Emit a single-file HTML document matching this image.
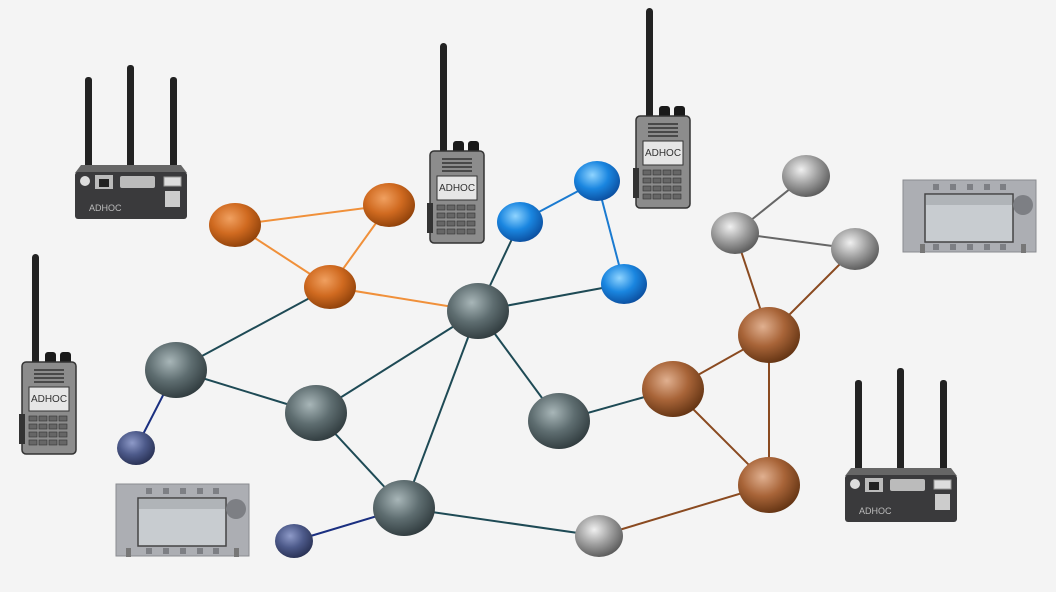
<!DOCTYPE html>
<html><head><style>
html,body{margin:0;padding:0;background:#f4f4f4;}
svg{display:block;font-family:"Liberation Sans",sans-serif;}
</style></head><body>
<svg width="1056" height="592" viewBox="0 0 1056 592" xmlns="http://www.w3.org/2000/svg">
<defs>
<radialGradient id="gT" cx="0.4" cy="0.35" r="0.7"><stop offset="0" stop-color="#a8b6b8"/><stop offset="0.5" stop-color="#5e6d70"/><stop offset="1" stop-color="#2d383b"/></radialGradient>
<radialGradient id="gO" cx="0.4" cy="0.35" r="0.7"><stop offset="0" stop-color="#f0a060"/><stop offset="0.5" stop-color="#d06a20"/><stop offset="1" stop-color="#8a3e08"/></radialGradient>
<radialGradient id="gB" cx="0.4" cy="0.35" r="0.7"><stop offset="0" stop-color="#8fd4ff"/><stop offset="0.5" stop-color="#1a86e0"/><stop offset="1" stop-color="#0a4a9a"/></radialGradient>
<radialGradient id="gN" cx="0.4" cy="0.35" r="0.7"><stop offset="0" stop-color="#8e9ac8"/><stop offset="0.5" stop-color="#4d5a8a"/><stop offset="1" stop-color="#262e50"/></radialGradient>
<radialGradient id="gG" cx="0.4" cy="0.35" r="0.7"><stop offset="0" stop-color="#f0f0f0"/><stop offset="0.5" stop-color="#a0a0a0"/><stop offset="1" stop-color="#555"/></radialGradient>
<radialGradient id="gC" cx="0.4" cy="0.35" r="0.7"><stop offset="0" stop-color="#e0b090"/><stop offset="0.5" stop-color="#a86438"/><stop offset="1" stop-color="#5e3010"/></radialGradient>
</defs>

<g stroke-width="2" fill="none">
<g stroke="#f0903a">
<line x1="235" y1="225" x2="389" y2="205"/><line x1="389" y1="205" x2="330" y2="287"/><line x1="330" y1="287" x2="235" y2="225"/><line x1="330" y1="287" x2="478" y2="311"/>
</g>
<g stroke="#1e4a55">
<line x1="176" y1="370" x2="330" y2="287"/><line x1="176" y1="370" x2="316" y2="413"/><line x1="316" y1="413" x2="478" y2="311"/><line x1="316" y1="413" x2="404" y2="508"/><line x1="478" y1="311" x2="404" y2="508"/><line x1="478" y1="311" x2="559" y2="421"/><line x1="478" y1="311" x2="520" y2="222"/><line x1="478" y1="311" x2="624" y2="284"/><line x1="404" y1="508" x2="599" y2="536"/><line x1="559" y1="421" x2="673" y2="389"/>
</g>
<g stroke="#1a2f80"><line x1="136" y1="448" x2="176" y2="370"/><line x1="294" y1="541" x2="404" y2="508"/></g>
<g stroke="#1a7ad0"><line x1="520" y1="222" x2="597" y2="181"/><line x1="597" y1="181" x2="624" y2="284"/></g>
<g stroke="#8a4a20"><line x1="599" y1="536" x2="769" y2="485"/><line x1="673" y1="389" x2="769" y2="335"/><line x1="673" y1="389" x2="769" y2="485"/><line x1="769" y1="335" x2="769" y2="485"/><line x1="769" y1="335" x2="735" y2="233"/><line x1="769" y1="335" x2="855" y2="249"/></g>
<g stroke="#666"><line x1="735" y1="233" x2="806" y2="176"/><line x1="735" y1="233" x2="855" y2="249"/></g>
</g>

<ellipse cx="235" cy="225" rx="26" ry="22" fill="url(#gO)"/>
<ellipse cx="389" cy="205" rx="26" ry="22" fill="url(#gO)"/>
<ellipse cx="330" cy="287" rx="26" ry="22" fill="url(#gO)"/>
<ellipse cx="520" cy="222" rx="23" ry="20" fill="url(#gB)"/>
<ellipse cx="597" cy="181" rx="23" ry="20" fill="url(#gB)"/>
<ellipse cx="624" cy="284" rx="23" ry="20" fill="url(#gB)"/>
<ellipse cx="176" cy="370" rx="31" ry="28" fill="url(#gT)"/>
<ellipse cx="316" cy="413" rx="31" ry="28" fill="url(#gT)"/>
<ellipse cx="478" cy="311" rx="31" ry="28" fill="url(#gT)"/>
<ellipse cx="404" cy="508" rx="31" ry="28" fill="url(#gT)"/>
<ellipse cx="559" cy="421" rx="31" ry="28" fill="url(#gT)"/>
<ellipse cx="136" cy="448" rx="19" ry="17" fill="url(#gN)"/>
<ellipse cx="294" cy="541" rx="19" ry="17" fill="url(#gN)"/>
<ellipse cx="599" cy="536" rx="24" ry="21" fill="url(#gG)"/>
<ellipse cx="735" cy="233" rx="24" ry="21" fill="url(#gG)"/>
<ellipse cx="806" cy="176" rx="24" ry="21" fill="url(#gG)"/>
<ellipse cx="855" cy="249" rx="24" ry="21" fill="url(#gG)"/>
<ellipse cx="673" cy="389" rx="31" ry="28" fill="url(#gC)"/>
<ellipse cx="769" cy="335" rx="31" ry="28" fill="url(#gC)"/>
<ellipse cx="769" cy="485" rx="31" ry="28" fill="url(#gC)"/>

<g transform="translate(428,43)">
<rect x="12" y="0" width="7" height="112" rx="3.5" fill="#222"/>
<rect x="25" y="98" width="11" height="16" rx="3" fill="#1a1a1a"/><rect x="40" y="98" width="11" height="16" rx="3" fill="#1a1a1a"/>
<rect x="2" y="108" width="54" height="92" rx="4" fill="#8c8c8c" stroke="#333" stroke-width="1.5"/>
<rect x="-1" y="160" width="6" height="30" fill="#333"/>
<g stroke="#333" stroke-width="1.5"><line x1="14" y1="116" x2="44" y2="116"/><line x1="14" y1="120" x2="44" y2="120"/><line x1="14" y1="124" x2="44" y2="124"/><line x1="14" y1="128" x2="44" y2="128"/></g>
<rect x="9" y="133" width="40" height="24" fill="#e6e6e6" stroke="#333"/>
<text x="29" y="148" font-size="10" text-anchor="middle" fill="#333">ADHOC</text>
<g fill="#666" stroke="#333" stroke-width="0.6">
<rect x="9" y="162" width="8" height="5"/><rect x="19" y="162" width="8" height="5"/><rect x="29" y="162" width="8" height="5"/><rect x="39" y="162" width="8" height="5"/>
<rect x="9" y="170" width="8" height="5"/><rect x="19" y="170" width="8" height="5"/><rect x="29" y="170" width="8" height="5"/><rect x="39" y="170" width="8" height="5"/>
<rect x="9" y="178" width="8" height="5"/><rect x="19" y="178" width="8" height="5"/><rect x="29" y="178" width="8" height="5"/><rect x="39" y="178" width="8" height="5"/>
<rect x="9" y="186" width="8" height="5"/><rect x="19" y="186" width="8" height="5"/><rect x="29" y="186" width="8" height="5"/><rect x="39" y="186" width="8" height="5"/>
</g></g>
<g transform="translate(634,8)">
<rect x="12" y="0" width="7" height="112" rx="3.5" fill="#222"/>
<rect x="25" y="98" width="11" height="16" rx="3" fill="#1a1a1a"/><rect x="40" y="98" width="11" height="16" rx="3" fill="#1a1a1a"/>
<rect x="2" y="108" width="54" height="92" rx="4" fill="#8c8c8c" stroke="#333" stroke-width="1.5"/>
<rect x="-1" y="160" width="6" height="30" fill="#333"/>
<g stroke="#333" stroke-width="1.5"><line x1="14" y1="116" x2="44" y2="116"/><line x1="14" y1="120" x2="44" y2="120"/><line x1="14" y1="124" x2="44" y2="124"/><line x1="14" y1="128" x2="44" y2="128"/></g>
<rect x="9" y="133" width="40" height="24" fill="#e6e6e6" stroke="#333"/>
<text x="29" y="148" font-size="10" text-anchor="middle" fill="#333">ADHOC</text>
<g fill="#666" stroke="#333" stroke-width="0.6">
<rect x="9" y="162" width="8" height="5"/><rect x="19" y="162" width="8" height="5"/><rect x="29" y="162" width="8" height="5"/><rect x="39" y="162" width="8" height="5"/>
<rect x="9" y="170" width="8" height="5"/><rect x="19" y="170" width="8" height="5"/><rect x="29" y="170" width="8" height="5"/><rect x="39" y="170" width="8" height="5"/>
<rect x="9" y="178" width="8" height="5"/><rect x="19" y="178" width="8" height="5"/><rect x="29" y="178" width="8" height="5"/><rect x="39" y="178" width="8" height="5"/>
<rect x="9" y="186" width="8" height="5"/><rect x="19" y="186" width="8" height="5"/><rect x="29" y="186" width="8" height="5"/><rect x="39" y="186" width="8" height="5"/>
</g></g>
<g transform="translate(20,254)">
<rect x="12" y="0" width="7" height="112" rx="3.5" fill="#222"/>
<rect x="25" y="98" width="11" height="16" rx="3" fill="#1a1a1a"/><rect x="40" y="98" width="11" height="16" rx="3" fill="#1a1a1a"/>
<rect x="2" y="108" width="54" height="92" rx="4" fill="#8c8c8c" stroke="#333" stroke-width="1.5"/>
<rect x="-1" y="160" width="6" height="30" fill="#333"/>
<g stroke="#333" stroke-width="1.5"><line x1="14" y1="116" x2="44" y2="116"/><line x1="14" y1="120" x2="44" y2="120"/><line x1="14" y1="124" x2="44" y2="124"/><line x1="14" y1="128" x2="44" y2="128"/></g>
<rect x="9" y="133" width="40" height="24" fill="#e6e6e6" stroke="#333"/>
<text x="29" y="148" font-size="10" text-anchor="middle" fill="#333">ADHOC</text>
<g fill="#666" stroke="#333" stroke-width="0.6">
<rect x="9" y="162" width="8" height="5"/><rect x="19" y="162" width="8" height="5"/><rect x="29" y="162" width="8" height="5"/><rect x="39" y="162" width="8" height="5"/>
<rect x="9" y="170" width="8" height="5"/><rect x="19" y="170" width="8" height="5"/><rect x="29" y="170" width="8" height="5"/><rect x="39" y="170" width="8" height="5"/>
<rect x="9" y="178" width="8" height="5"/><rect x="19" y="178" width="8" height="5"/><rect x="29" y="178" width="8" height="5"/><rect x="39" y="178" width="8" height="5"/>
<rect x="9" y="186" width="8" height="5"/><rect x="19" y="186" width="8" height="5"/><rect x="29" y="186" width="8" height="5"/><rect x="39" y="186" width="8" height="5"/>
</g></g>

<g transform="translate(75,65)">
<rect x="10" y="12" width="7" height="100" rx="3" fill="#222"/><rect x="52" y="0" width="7" height="105" rx="3" fill="#222"/><rect x="95" y="12" width="7" height="100" rx="3" fill="#222"/>
<path d="M6 100 L106 100 L112 108 L0 108 Z" fill="#666"/>
<rect x="0" y="107" width="112" height="47" rx="3" fill="#3a3a3c"/>
<circle cx="10" cy="116" r="5" fill="#ddd"/>
<rect x="20" y="110" width="18" height="14" fill="#bbb"/><rect x="24" y="114" width="10" height="8" fill="#222"/>
<rect x="45" y="111" width="35" height="12" rx="2" fill="#bbb"/>
<rect x="89" y="112" width="17" height="9" fill="#ddd" stroke="#999"/>
<rect x="90" y="126" width="15" height="16" fill="#ccc"/>
<text x="14" y="146" font-size="9" fill="#bbb">ADHOC</text>
</g>
<g transform="translate(845,368)">
<rect x="10" y="12" width="7" height="100" rx="3" fill="#222"/><rect x="52" y="0" width="7" height="105" rx="3" fill="#222"/><rect x="95" y="12" width="7" height="100" rx="3" fill="#222"/>
<path d="M6 100 L106 100 L112 108 L0 108 Z" fill="#666"/>
<rect x="0" y="107" width="112" height="47" rx="3" fill="#3a3a3c"/>
<circle cx="10" cy="116" r="5" fill="#ddd"/>
<rect x="20" y="110" width="18" height="14" fill="#bbb"/><rect x="24" y="114" width="10" height="8" fill="#222"/>
<rect x="45" y="111" width="35" height="12" rx="2" fill="#bbb"/>
<rect x="89" y="112" width="17" height="9" fill="#ddd" stroke="#999"/>
<rect x="90" y="126" width="15" height="16" fill="#ccc"/>
<text x="14" y="146" font-size="9" fill="#bbb">ADHOC</text>
</g>

<g transform="translate(116,484)">
<rect x="0" y="0" width="133" height="72" fill="#acaeb3" stroke="#8a8c90"/>
<rect x="10" y="64" width="5" height="9" fill="#777"/><rect x="118" y="64" width="5" height="9" fill="#777"/>
<rect x="22" y="14" width="88" height="48" fill="#c8ccd0" stroke="#444" stroke-width="1.5"/>
<rect x="23" y="15" width="86" height="10" fill="#b0b4b8"/>
<circle cx="120" cy="25" r="10" fill="#7d7f84"/>
<g fill="#7d7f84"><rect x="30" y="4" width="6" height="6"/><rect x="47" y="4" width="6" height="6"/><rect x="64" y="4" width="6" height="6"/><rect x="81" y="4" width="6" height="6"/><rect x="97" y="4" width="6" height="6"/>
<rect x="30" y="64" width="6" height="6"/><rect x="47" y="64" width="6" height="6"/><rect x="64" y="64" width="6" height="6"/><rect x="81" y="64" width="6" height="6"/><rect x="97" y="64" width="6" height="6"/></g>
</g>
<g transform="translate(903,180)">
<rect x="0" y="0" width="133" height="72" fill="#acaeb3" stroke="#8a8c90"/>
<rect x="17" y="64" width="5" height="9" fill="#777"/><rect x="118" y="64" width="5" height="9" fill="#777"/>
<rect x="22" y="14" width="88" height="48" fill="#c8ccd0" stroke="#444" stroke-width="1.5"/>
<rect x="23" y="15" width="86" height="10" fill="#b0b4b8"/>
<circle cx="120" cy="25" r="10" fill="#7d7f84"/>
<g fill="#7d7f84"><rect x="30" y="4" width="6" height="6"/><rect x="47" y="4" width="6" height="6"/><rect x="64" y="4" width="6" height="6"/><rect x="81" y="4" width="6" height="6"/><rect x="97" y="4" width="6" height="6"/>
<rect x="30" y="64" width="6" height="6"/><rect x="47" y="64" width="6" height="6"/><rect x="64" y="64" width="6" height="6"/><rect x="81" y="64" width="6" height="6"/><rect x="97" y="64" width="6" height="6"/></g>
</g>
</svg>
</body></html>
